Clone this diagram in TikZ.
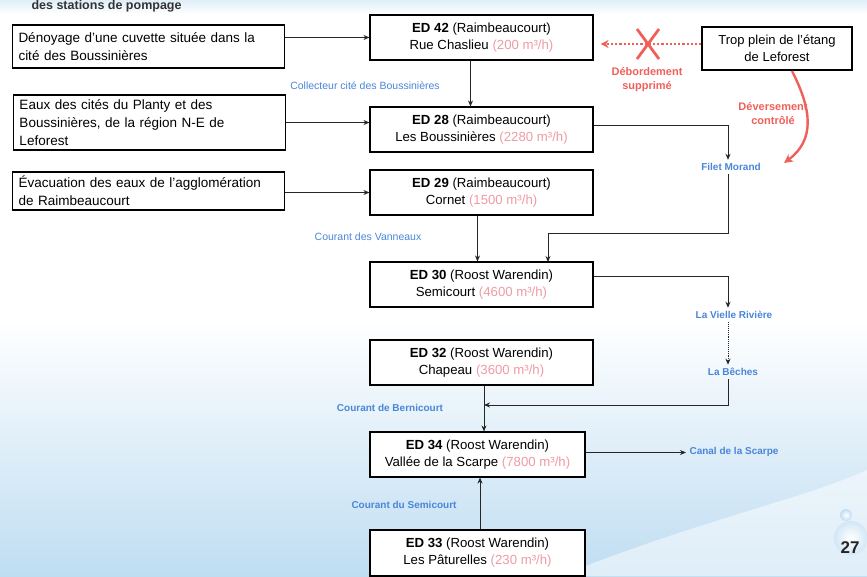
\documentclass[tikz,border=0pt]{standalone}
\usepackage{fontspec}
\setmainfont{Liberation Sans}
\usetikzlibrary{arrows.meta,calc}
\definecolor{lblue}{HTML}{4A86D8}
\definecolor{lred}{HTML}{F0605A}
\definecolor{flow}{HTML}{EE9CA4}
\definecolor{sea}{HTML}{BFDDF2}
\begin{document}
\begin{tikzpicture}[x=1pt,y=-1pt,
  srcbox/.style={draw=black,line width=1.1pt,fill=white,minimum height=#1,
    text width=260pt,inner xsep=6pt,align=left,font=\fontsize{13.5}{18}\selectfont},
  edbox/.style={draw=black,line width=1.1pt,fill=white,minimum width=223pt,
    minimum height=45pt,align=center,font=\fontsize{13.2}{17}\selectfont},
  trop/.style={draw=black,line width=1.1pt,fill=white,minimum width=150pt,
    minimum height=43pt,align=center,font=\fontsize{13}{17}\selectfont},
  flowlbl/.style={text=lblue,font=\fontsize{10.5}{12}\selectfont},
  flowbold/.style={text=lblue,font=\bfseries\fontsize{10}{12}\selectfont},
  redlbl/.style={text=lred,align=center,font=\bfseries\fontsize{11}{14}\selectfont},
  link/.style={draw=black!85,line width=0.9pt},
  tip/.style={-{Stealth[length=6pt,width=5pt]}}
]
\useasboundingbox (0,0) rectangle (867,576);

% sea-coloured background
\fill[white] (0,0) rectangle (867,576);
\shade[top color=white,bottom color=sea] (0,320) rectangle (867,576);
\shade[top color=sea!50,bottom color=white] (0,0) rectangle (867,14);
\fill[white,opacity=0.5] (560,576) .. controls (700,520) and (800,500) .. (867,470) -- (867,576) -- cycle;

% slide heading
\node[anchor=west,font=\bfseries\fontsize{12.5}{13}\selectfont,text=black!80,inner ysep=0.5pt] (title) at (28,6.5) {des stations de pompage};

% sources on the left
\node[srcbox=43pt] (src1) at (148.5,46.5) {Dénoyage d'une cuvette située dans la\\cité des Boussinières};
\node[srcbox=55pt] (src2) at (149.5,122.5) {Eaux des cités du Planty et des\\Boussinières, de la région N-E de\\Leforest};
\node[srcbox=38pt] (src3) at (148.5,191) {Évacuation des eaux de l'agglomération\\de Raimbeaucourt};

% pumping stations
\node[edbox] (ed42) at (481.5,37.5) {\textbf{ED 42} (Raimbeaucourt)\\Rue Chaslieu \textcolor{flow}{(200 m³/h)}};
\node[edbox] (ed28) at (481.5,129.5) {\textbf{ED 28} (Raimbeaucourt)\\Les Boussinières \textcolor{flow}{(2280 m³/h)}};
\node[edbox] (ed29) at (481.5,192.5) {\textbf{ED 29} (Raimbeaucourt)\\Cornet \textcolor{flow}{(1500 m³/h)}};
\node[edbox] (ed30) at (481.5,284.5) {\textbf{ED 30} (Roost Warendin)\\Semicourt \textcolor{flow}{(4600 m³/h)}};
\node[edbox] (ed32) at (481.5,362.5) {\textbf{ED 32} (Roost Warendin)\\Chapeau \textcolor{flow}{(3600 m³/h)}};
\node[edbox,minimum width=215pt] (ed34) at (477.5,454.5) {\textbf{ED 34} (Roost Warendin)\\Vallée de la Scarpe \textcolor{flow}{(7800 m³/h)}};
\node[edbox,minimum width=215pt,minimum height=46pt] (ed33) at (477.5,553) {\textbf{ED 33} (Roost Warendin)\\Les Pâturelles \textcolor{flow}{(230 m³/h)}};

\node[trop] (trop) at (777,48.5) {Trop plein de l'étang\\de Leforest};

% watercourse labels
\node[flowlbl] (collect) at (365,86) {Collecteur cité des Boussinières};
\node[flowbold] (filet) at (731,167) {Filet Morand};
\node[flowlbl] (vanneaux) at (368,237) {Courant des Vanneaux};
\node[flowbold] (vieille) at (734,315) {La Vielle Rivière};
\node[flowbold] (beches) at (733,372) {La Bêches};
\node[flowbold] (bernic) at (390,408) {Courant de Bernicourt};
\node[flowbold,anchor=west] (canal) at (686,452) {Canal de la Scarpe};
\node[flowbold] (semic) at (404,505) {Courant du Semicourt};

% red annotations
\node[redlbl] (debord) at (647,80) {Débordement\\supprimé};
\node[redlbl] (devers) at (773,114) {Déversement\\contrôlé};

\coordinate (xc) at (648,44);
\coordinate (fm) at (728,125);
\coordinate (fmdown) at (728,233);
\coordinate (vr) at (728,276);
\coordinate (bc) at (728,405);

% inflows to the stations
\draw[link,tip] (src1.east |- ed42.west) -- (ed42.west);
\draw[link,tip] (src2.east) -- (src2.east -| ed28.west);
\draw[link,tip] (src3.east |- ed29.west) -- (ed29.west);

% network
\draw[link,tip] ([xshift=-11pt]ed42.south) -- ([xshift=-11pt]ed28.north);
\draw[link,tip] (ed28.east |- fm) -- (fm) -- (filet.north -| fm);
\draw[link,tip] (filet.south -| fmdown) -- (fmdown) -- (548,233) -- (548,262);
\draw[link,tip] ([xshift=-4pt]ed29.south) -- ([xshift=-4pt]ed30.north);
\draw[link,tip] (ed30.east |- vr) -- (vr) -- (vieille.north -| vr);
\draw[link,densely dotted,tip] (vieille.south -| vr) -- (beches.north -| vr);
\draw[link,tip] (beches.south -| bc) -- (bc) -- (484,405);
\draw[link,tip] ([xshift=2.5pt]ed32.south) -- ([xshift=6.5pt]ed34.north);
\draw[link,tip] ($(ed34.east)+(0,-2)$) -- (canal.west |- {$(ed34.east)+(0,-2)$});
\draw[link,tip] ([xshift=2.5pt]ed33.north) -- ([xshift=2.5pt]ed34.south);

% suppressed overflow and controlled spillway
\draw[lred,line width=2.2pt,dotted,-{Stealth[length=8pt,width=8pt]}] (trop.west |- xc) -- ($(ed42.east |- xc)+(7,0)$);
\draw[lred,line width=2.8pt] ($(xc)+(-11,-15)$) -- ($(xc)+(11,15)$) ($(xc)+(11,-15)$) -- ($(xc)+(-11,15)$);
\draw[lred,line width=2.4pt,-{Stealth[length=9pt,width=9pt]}] (792,71) .. controls (812,110) and (815,140) .. (784,163);

% page number
\shade[inner color=white,outer color=sea!70!white] (851,538) circle (17);
\shade[inner color=white,outer color=sea] (846,515) circle (6);
\node[font=\bfseries\fontsize{17}{20}\selectfont,text=black!85] (page) at (850,548) {27};
\end{tikzpicture}
\end{document}
